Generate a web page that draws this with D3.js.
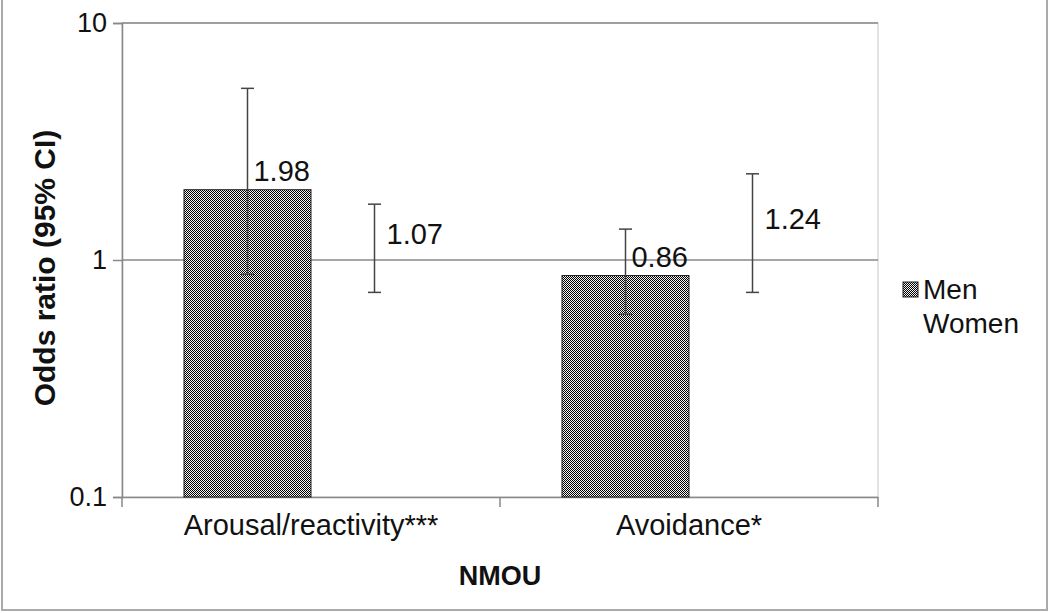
<!DOCTYPE html>
<html><head><meta charset="utf-8">
<script src="https://cdn.jsdelivr.net/npm/d3@7"></script>
<style>body{margin:0;background:#fff}svg{display:block}text{font-family:"Liberation Sans",Arial,sans-serif}</style>
</head><body><svg id="c" width="1050" height="613"></svg>
<script>
const categories = ["Arousal/reactivity***", "Avoidance*"];
const seriesNames = ["Men", "Women"];
const menOR = [1.98, 0.86];
const menLow = [0.87, 0.59];
const menHigh = [5.3, 1.35];
const womenOR = [1.07, 1.24];
const womenLow = [0.73, 0.73];
const womenHigh = [1.72, 2.31];
const yTicks = [0.1, 1, 10];
const yTickLabels = ["0.1", "1", "10"];

const svg = d3.select("#c");
const L = 122, R = 878, T = 23, B = 497;

const defs = svg.append("defs");
const pat = defs.append("pattern").attr("id","chk").attr("width",2).attr("height",2).attr("patternUnits","userSpaceOnUse");
pat.append("rect").attr("width",2).attr("height",2).attr("fill","#f4f4f4");
pat.append("rect").attr("x",0).attr("y",0).attr("width",1).attr("height",1).attr("fill","#000");
pat.append("rect").attr("x",1).attr("y",1).attr("width",1).attr("height",1).attr("fill","#000");

// outer frame
svg.append("rect").attr("x",2).attr("y",-2).attr("width",1045).attr("height",612).attr("fill","none").attr("stroke","#aaa").attr("stroke-width",2);

const x0 = d3.scaleBand().domain(categories).range([L,R]).paddingInner(0.328).paddingOuter(0.164);
const x1 = d3.scaleBand().domain(seriesNames).range([0,x0.bandwidth()]);
const y = d3.scaleLog().domain([0.1,10]).range([B,T]);

// plot border
svg.append("rect").attr("x",L).attr("y",T).attr("width",R-L).attr("height",B-T).attr("fill","none").attr("stroke","#c8c8c8").attr("stroke-width",1);

// gridlines
svg.append("g").selectAll("line").data(yTicks.filter(v=>v>0.1)).join("line")
  .attr("x1",L).attr("x2",R).attr("y1",d=>y(d)).attr("y2",d=>y(d)).attr("stroke","#888").attr("stroke-width",1.5);

// y axis
const ya = svg.append("g").attr("transform",`translate(${L},0)`)
  .call(d3.axisLeft(y).tickValues(yTicks).tickFormat((d,i)=>yTickLabels[i]).tickSize(9).tickPadding(6));
ya.select(".domain").attr("stroke","#888").attr("stroke-width",1.5);
ya.selectAll(".tick line").attr("stroke","#888").attr("stroke-width",1.5);
ya.selectAll("text").attr("font-size",27).attr("fill","#111").attr("font-family","Liberation Sans, Arial, sans-serif");

// x axis
const xa = svg.append("g").attr("transform",`translate(0,${B})`)
  .call(d3.axisBottom(x0).tickSize(0).tickPadding(17));
xa.select(".domain").attr("stroke","#888").attr("stroke-width",1.5);
xa.selectAll("text").attr("font-size",29).attr("fill","#111").attr("font-family","Liberation Sans, Arial, sans-serif");
// category separator ticks
svg.append("g").selectAll("line").data(d3.range(categories.length+1)).join("line")
  .attr("x1",i=>L+i*(R-L)/categories.length).attr("x2",i=>L+i*(R-L)/categories.length)
  .attr("y1",B).attr("y2",B+10).attr("stroke","#888").attr("stroke-width",1.5);

const data = [];
categories.forEach((c,i)=>{
  data.push({c, s:"Men", v:menOR[i], lo:menLow[i], hi:menHigh[i]});
  data.push({c, s:"Women", v:womenOR[i], lo:womenLow[i], hi:womenHigh[i]});
});

// bars (men patterned; women unfilled)
svg.append("g").selectAll("rect").data(data.filter(d=>d.s==="Men")).join("rect")
  .attr("x",d=>x0(d.c)+x1(d.s)).attr("width",x1.bandwidth())
  .attr("y",d=>y(d.v)).attr("height",d=>B-y(d.v))
  .attr("fill","url(#chk)").attr("stroke","#222").attr("stroke-width",1);

// error bars
const eb = svg.append("g").attr("stroke","#444").attr("stroke-width",1.5);
data.forEach(d=>{
  const cx = x0(d.c)+x1(d.s)+x1.bandwidth()/2;
  eb.append("line").attr("x1",cx).attr("x2",cx).attr("y1",y(d.hi)).attr("y2",y(d.lo));
  eb.append("line").attr("x1",cx-6.5).attr("x2",cx+6.5).attr("y1",y(d.hi)).attr("y2",y(d.hi));
  eb.append("line").attr("x1",cx-6.5).attr("x2",cx+6.5).attr("y1",y(d.lo)).attr("y2",y(d.lo));
});

// value labels
svg.append("g").selectAll("text").data(data).join("text")
  .attr("x",d=>x0(d.c)+x1(d.s)+x1.bandwidth()/2+ (d.s==="Men"?6:12))
  .attr("y",d=>y(d.v)-9)
  .attr("font-size",29).attr("fill","#111")
  .text(d=>d.v.toFixed(2));

// axis titles
svg.append("text").attr("transform","translate(55,268) rotate(-90)").attr("text-anchor","middle")
  .attr("font-size",30).attr("font-weight","bold").attr("fill","#111").text("Odds ratio (95% CI)");
svg.append("text").attr("x",500).attr("y",585).attr("text-anchor","middle")
  .attr("font-size",27).attr("font-weight","bold").attr("fill","#111").text("NMOU");

// legend
const lg = svg.append("g").attr("transform","translate(903,282)");
lg.append("rect").attr("x",0).attr("y",0).attr("width",15).attr("height",15).attr("fill","url(#chk)").attr("stroke","#222");
lg.append("text").attr("x",20).attr("y",17).attr("font-size",28).attr("fill","#111").text(seriesNames[0]);
lg.append("text").attr("x",20).attr("y",51).attr("font-size",28).attr("fill","#111").text(seriesNames[1]);
</script></body></html>
